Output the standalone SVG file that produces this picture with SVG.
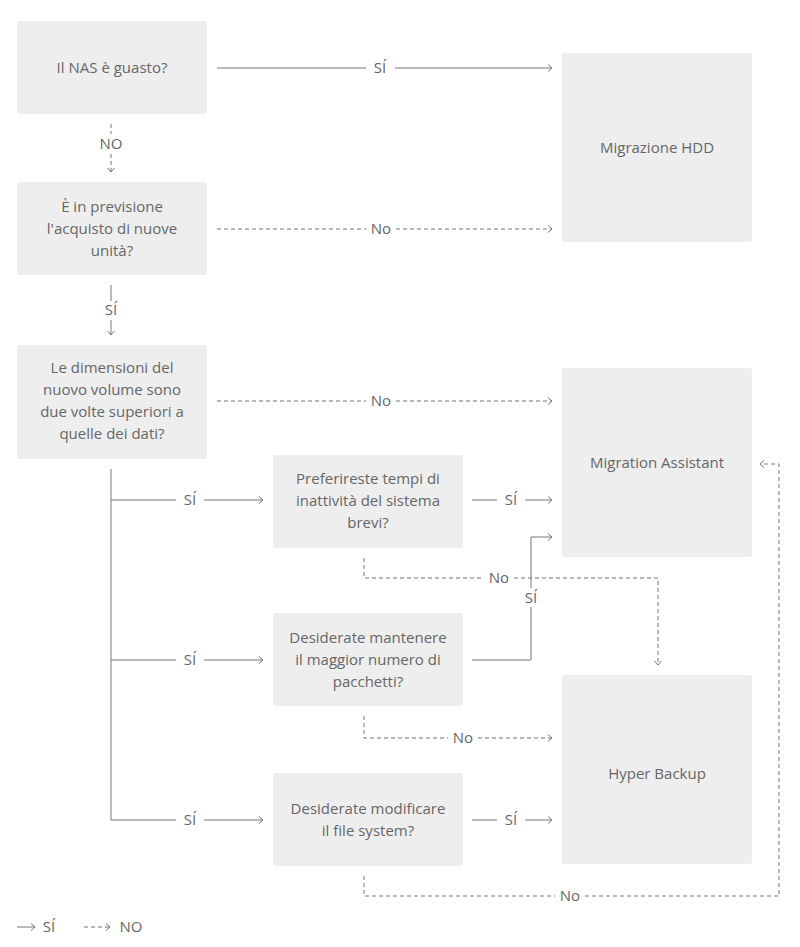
<svg xmlns="http://www.w3.org/2000/svg" width="800" height="947" viewBox="0 0 800 947">
<defs>
<style>
.box{fill:#eeeeee}
text{font-family:"Open Sans","Noto Sans","Liberation Sans",sans-serif;font-size:15px;fill:#666666;text-anchor:middle}
.n text{font-weight:500;font-size:15px;fill:#666666}
.s{fill:none;stroke:#777777;stroke-width:1}
.d{fill:none;stroke:#777777;stroke-width:1;stroke-dasharray:4 3}
.ma{marker-end:url(#arr)}
</style>
<marker id="arr" markerWidth="8" markerHeight="10" refX="5" refY="4" orient="auto" markerUnits="userSpaceOnUse">
<path d="M1,0.5 L5,4 L1,7.5" fill="none" stroke="#777777" stroke-width="1"/>
</marker>
</defs>
<rect width="800" height="947" fill="#ffffff"/>

<g id="n1" class="n"><rect class="box" x="17" y="21" width="190" height="93" rx="2"/><text x="112" y="73">Il NAS è guasto?</text></g>
<g id="n2" class="n"><rect class="box" x="17" y="182" width="190" height="93" rx="2"/>
<text x="112" y="212">È in previsione</text><text x="112" y="234">l'acquisto di nuove</text><text x="112" y="256">unità?</text></g>
<g id="n3" class="n"><rect class="box" x="17" y="345" width="190" height="114" rx="2"/>
<text x="112" y="373">Le dimensioni del</text><text x="112" y="395">nuovo volume sono</text><text x="112" y="417">due volte superiori a</text><text x="112" y="439">quelle dei dati?</text></g>
<g id="n4" class="n"><rect class="box" x="273" y="455" width="190" height="93" rx="2"/>
<text x="368" y="484">Preferireste tempi di</text><text x="368" y="506">inattività del sistema</text><text x="368" y="528">brevi?</text></g>
<g id="n5" class="n"><rect class="box" x="273" y="613" width="190" height="93" rx="2"/>
<text x="368" y="643">Desiderate mantenere</text><text x="368" y="665">il maggior numero di</text><text x="368" y="687">pacchetti?</text></g>
<g id="n6" class="n"><rect class="box" x="273" y="773" width="190" height="93" rx="2"/>
<text x="368" y="814">Desiderate modificare</text><text x="368" y="836">il file system?</text></g>
<g id="hdd" class="n"><rect class="box" x="562" y="53" width="190" height="189" rx="2"/><text x="657" y="153">Migrazione HDD</text></g>
<g id="ma" class="n"><rect class="box" x="562" y="368" width="190" height="189" rx="2"/><text x="657" y="468">Migration Assistant</text></g>
<g id="hb" class="n"><rect class="box" x="562" y="675" width="190" height="189" rx="2"/><text x="657" y="779">Hyper Backup</text></g>

<g id="connectors">
<path class="s" d="M217,68 H366"/><path class="s ma" d="M395,68 H552"/><text x="380" y="73">SÍ</text>
<path class="d" d="M111,124 V134"/><path class="d ma" d="M111,154 V172"/><text x="111" y="149">NO</text>
<path class="d" d="M217,229 H366"/><path class="d ma" d="M396,229 H552"/><text x="381" y="234">No</text>
<path class="s" d="M111,285 V301"/><path class="s ma" d="M111,320 V335"/><text x="111" y="315">SÍ</text>
<path class="d" d="M217,401 H366"/><path class="d ma" d="M396,401 H552"/><text x="381" y="406">No</text>
<path class="s" d="M111,469 V820 H176"/><path class="s ma" d="M204,820 H263"/><text x="190" y="825">SÍ</text>
<path class="s" d="M111,500 H176"/><path class="s ma" d="M204,500 H263"/><text x="190" y="505">SÍ</text>
<path class="s" d="M111,660 H176"/><path class="s ma" d="M204,660 H263"/><text x="190" y="665">SÍ</text>
<path class="s" d="M472,500 H497"/><path class="s ma" d="M525,500 H552"/><text x="511" y="505">SÍ</text>
<path class="s" d="M472,820 H497"/><path class="s ma" d="M525,820 H552"/><text x="511" y="825">SÍ</text>
<path class="d" d="M364,558 V578 H484"/><path class="d ma" d="M514,578 H658 V665"/><text x="499" y="583">No</text>
<path class="s" d="M472,660 H531 V607"/><path class="s ma" d="M531,588 V537 H552"/><text x="531" y="603">SÍ</text>
<path class="d" d="M364,716 V738 H448"/><path class="d ma" d="M478,738 H552"/><text x="463" y="743">No</text>
<path class="d" d="M364,876 V896 H555"/><path class="d ma" d="M585,896 H779 V464 H760"/><text x="570" y="901">No</text>
</g>

<g id="legend">
<path class="s ma" d="M17,927 H35"/><text x="49" y="932">SÍ</text>
<path class="d ma" d="M84,927 H110"/><text x="131" y="932">NO</text>
</g>
</svg>
